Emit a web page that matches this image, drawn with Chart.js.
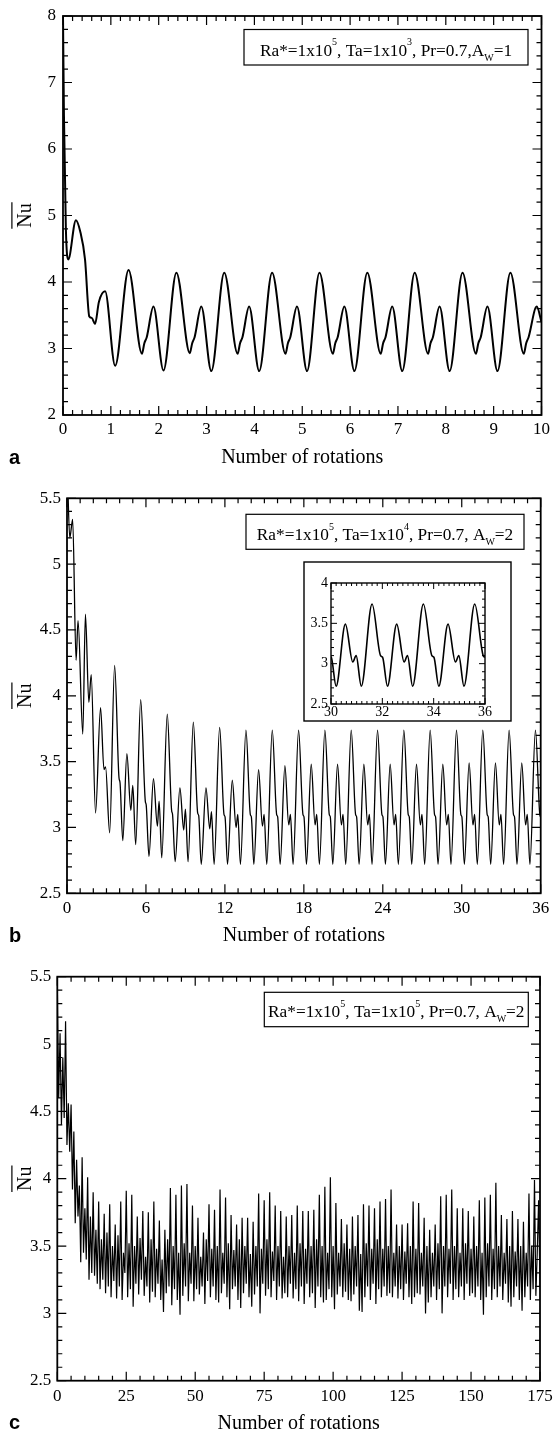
<!DOCTYPE html>
<html>
<head>
<meta charset="utf-8">
<script src="https://cdn.jsdelivr.net/npm/chart.js@4.4.0/dist/chart.umd.min.js"></script>
<style>
  body { margin: 0; background: #fff; }
  #page { position: relative; width: 553px; height: 1431px; overflow: hidden; }
  #page canvas { position: absolute; left: 0; top: 0; }
</style>
</head>
<body>
<div id="page">
  <canvas id="panelA" width="553" height="1431"></canvas>
  <canvas id="panelB" width="553" height="1431"></canvas>
  <canvas id="panelC" width="553" height="1431"></canvas>
  <canvas id="insetB" width="553" height="1431"></canvas>
</div>
<script>
// ---- panel a : Ra*=1e5, Ta=1e3, Aw=1 ----
const rotA = [
  0, 0.02, 0.06, 0.11, 0.27, 0.36, 0.46, 0.55, 0.6, 0.67, 0.75, 0.88, 1.09,
  1.37, 1.65, 1.7, 1.75, 1.89, 2.1,
  2.37, 2.65, 2.7, 2.75, 2.89, 3.1,
  3.37, 3.65, 3.7, 3.75, 3.89, 4.1,
  4.37, 4.65, 4.7, 4.75, 4.89, 5.1,
  5.36, 5.64, 5.69, 5.74, 5.88, 6.09,
  6.36, 6.64, 6.69, 6.74, 6.88, 7.09,
  7.35, 7.63, 7.68, 7.73, 7.87, 8.08,
  8.35, 8.63, 8.68, 8.73, 8.87, 9.08,
  9.35, 9.63, 9.68, 9.73, 9.9, 10
];
const nuA = [
  8.0, 6.5, 4.8, 4.34, 4.93, 4.76, 4.34, 3.48, 3.46, 3.37, 3.7, 3.86, 2.74,
  4.18, 2.92, 3.08, 3.17, 3.63, 2.67,
  4.14, 2.93, 3.08, 3.17, 3.63, 2.66,
  4.14, 2.92, 3.08, 3.17, 3.63, 2.66,
  4.14, 2.92, 3.08, 3.17, 3.63, 2.66,
  4.14, 2.92, 3.08, 3.17, 3.63, 2.66,
  4.14, 2.92, 3.08, 3.17, 3.63, 2.66,
  4.14, 2.92, 3.08, 3.17, 3.63, 2.66,
  4.14, 2.92, 3.08, 3.17, 3.63, 2.66,
  4.14, 2.92, 3.08, 3.17, 3.63, 3.4
];
const ticksXA = [0, 1, 2, 3, 4, 5, 6, 7, 8, 9, 10];
const ticksYA = [2, 3, 4, 5, 6, 7, 8];

// ---- panel b : Ra*=1e5, Ta=1e4, Aw=2 ----
const rotB = [
  0.02, 0.21, 0.43, 0.69, 0.84, 1.2, 1.4, 1.66, 1.84, 2.17, 2.55, 2.81, 2.93, 3.24,
  3.62, 3.95, 4.03, 4.24, 4.55, 4.85, 5.0, 5.22,
  5.6, 5.95, 6.02, 6.23, 6.57, 6.87, 7.0, 7.2,
  7.62, 7.95, 8.02, 8.22, 8.58, 8.87, 9.0, 9.2,
  9.6, 9.93, 10.01, 10.2, 10.56, 10.85, 10.98, 11.18,
  11.6, 11.93, 12.01, 12.2, 12.56, 12.85, 12.98, 13.18,
  13.6, 13.93, 14.01, 14.2, 14.56, 14.85, 14.98, 15.18,
  15.6, 15.93, 16.01, 16.2, 16.56, 16.85, 16.98, 17.18,
  17.6, 17.93, 18.01, 18.2, 18.56, 18.85, 18.98, 19.18,
  19.6, 19.93, 20.01, 20.2, 20.56, 20.85, 20.98, 21.18,
  21.6, 21.93, 22.01, 22.2, 22.56, 22.85, 22.98, 23.18,
  23.6, 23.93, 24.01, 24.2, 24.56, 24.85, 24.98, 25.18,
  25.6, 25.93, 26.01, 26.2, 26.56, 26.85, 26.98, 27.18,
  27.6, 27.93, 28.01, 28.2, 28.56, 28.85, 28.98, 29.18,
  29.6, 29.93, 30.01, 30.2, 30.56, 30.85, 30.98, 31.18,
  31.6, 31.93, 32.01, 32.2, 32.56, 32.85, 32.98, 33.18,
  33.6, 33.93, 34.01, 34.2, 34.56, 34.85, 34.98, 35.18,
  35.6, 35.93, 36.0
];
const nuB = [
  5.75, 5.2, 5.34, 4.27, 4.57, 3.71, 4.62, 3.95, 4.16, 3.11, 3.91, 3.44, 3.46, 2.96,
  4.23, 3.38, 3.34, 2.9, 3.56, 3.13, 3.32, 2.87,
  3.97, 3.2, 3.17, 2.78, 3.37, 3.01, 3.2, 2.77,
  3.86, 3.13, 3.1, 2.74, 3.3, 2.98, 3.14, 2.74,
  3.8, 3.11, 3.09, 2.72, 3.3, 2.99, 3.12, 2.72,
  3.76, 3.1, 3.08, 2.72, 3.36, 3.0, 3.1, 2.72,
  3.74, 3.1, 3.08, 2.72, 3.44, 3.01, 3.1, 2.72,
  3.74, 3.1, 3.08, 2.72, 3.47, 3.02, 3.1, 2.72,
  3.74, 3.1, 3.08, 2.72, 3.48, 3.02, 3.1, 2.72,
  3.74, 3.1, 3.08, 2.72, 3.48, 3.02, 3.1, 2.72,
  3.74, 3.1, 3.08, 2.72, 3.48, 3.02, 3.1, 2.72,
  3.74, 3.1, 3.08, 2.72, 3.48, 3.02, 3.1, 2.72,
  3.74, 3.1, 3.08, 2.72, 3.48, 3.02, 3.1, 2.72,
  3.74, 3.1, 3.08, 2.72, 3.48, 3.02, 3.1, 2.72,
  3.74, 3.1, 3.08, 2.72, 3.49, 3.02, 3.1, 2.72,
  3.74, 3.1, 3.08, 2.72, 3.49, 3.02, 3.1, 2.72,
  3.74, 3.1, 3.08, 2.72, 3.49, 3.02, 3.1, 2.72,
  3.74, 3.1, 3.08
];
const ticksXB = [0, 6, 12, 18, 24, 30, 36];
const ticksYB = [2.5, 3, 3.5, 4, 4.5, 5, 5.5];
const ticksXInset = [30, 32, 34, 36];
const ticksYInset = [2.5, 3, 3.5, 4];

// ---- panel c : Ra*=1e5, Ta=1e5, Aw=2 (sampled every half rotation) ----
const stepC = 0.5;
const nuC = [
  5.45, 4.6, 5.08, 4.4, 4.9, 4.45, 5.17, 4.25, 4.56, 4.2, 4.55, 3.92, 4.35, 3.67, 4.14, 3.72, 3.95, 3.38, 4.16, 3.45,
  3.78, 3.4, 4.01, 3.25, 3.72, 3.3, 3.9, 3.28, 3.62, 3.22, 3.83, 3.18, 3.55, 3.25, 3.74, 3.15, 3.6, 3.2, 3.81, 3.12,
  3.5, 3.24, 3.66, 3.11, 3.58, 3.2, 3.83, 3.1, 3.45, 3.3, 3.91, 3.12, 3.52, 3.18, 3.88, 3.05, 3.5, 3.22, 3.72, 3.14,
  3.56, 3.25, 3.76, 3.13, 3.42, 3.2, 3.75, 3.08, 3.55, 3.16, 3.83, 3.12, 3.48, 3.22, 3.69, 3.1, 3.4, 3.01, 3.62, 3.15,
  3.55, 3.2, 3.93, 3.06, 3.5, 3.18, 3.88, 3.1, 3.45, 2.99, 3.95, 3.13, 3.52, 3.2, 3.96, 3.09, 3.45, 3.22, 3.8, 3.09,
  3.5, 3.18, 3.71, 3.14, 3.42, 3.2, 3.6, 3.07, 3.55, 3.24, 3.81, 3.12, 3.48, 3.2, 3.77, 3.1, 3.5, 3.08, 3.92, 3.15,
  3.45, 3.22, 3.86, 3.12, 3.52, 3.03, 3.73, 3.18, 3.47, 3.2, 3.66, 3.1, 3.55, 3.04, 3.71, 3.15, 3.5, 3.22, 3.71, 3.12,
  3.44, 3.05, 3.68, 3.14, 3.5, 3.2, 3.89, 3.0, 3.48, 3.22, 3.84, 3.13, 3.55, 3.18, 3.9, 3.12, 3.46, 3.24, 3.8, 3.1,
  3.5, 3.2, 3.76, 3.11, 3.42, 3.15, 3.72, 3.12, 3.5, 3.22, 3.73, 3.11, 3.45, 3.18, 3.8, 3.09, 3.52, 3.2, 3.76, 3.07,
  3.48, 3.22, 3.76, 3.12, 3.5, 3.15, 3.77, 3.04, 3.55, 3.2, 3.88, 3.12, 3.5, 3.08, 3.94, 3.1, 3.45, 3.18, 4.01, 3.12,
  3.5, 3.03, 3.82, 3.14, 3.45, 3.2, 3.7, 3.12, 3.52, 3.16, 3.66, 3.1, 3.48, 3.09, 3.72, 3.14, 3.5, 3.2, 3.73, 3.02,
  3.44, 3.01, 3.81, 3.12, 3.52, 3.2, 3.8, 3.1, 3.48, 3.22, 3.78, 3.07, 3.55, 3.18, 3.83, 3.12, 3.48, 3.2, 3.85, 3.13,
  3.5, 3.15, 3.92, 3.12, 3.45, 3.2, 3.66, 3.11, 3.5, 3.18, 3.66, 3.1, 3.46, 3.22, 3.67, 3.12, 3.5, 3.07, 3.83, 3.12,
  3.48, 3.15, 3.82, 3.14, 3.45, 3.2, 3.71, 3.0, 3.5, 3.08, 3.62, 3.12, 3.45, 3.2, 3.66, 3.1, 3.52, 3.18, 3.87, 3.0,
  3.5, 3.2, 3.88, 3.12, 3.48, 3.22, 3.92, 3.1, 3.5, 3.18, 3.78, 3.12, 3.45, 3.2, 3.78, 3.1, 3.52, 3.22, 3.76, 3.13,
  3.48, 3.15, 3.72, 3.12, 3.5, 3.2, 3.84, 3.1, 3.45, 2.99, 3.86, 3.12, 3.52, 3.2, 3.88, 3.1, 3.48, 3.18, 3.97, 3.12,
  3.5, 3.2, 3.73, 3.1, 3.45, 3.22, 3.7, 3.08, 3.5, 3.05, 3.76, 3.12, 3.46, 3.2, 3.7, 3.1, 3.5, 3.02, 3.68, 3.12,
  3.45, 3.2, 3.89, 3.1, 3.5, 3.18, 3.99, 3.13, 3.45, 3.84, 3.2
];
const rotC = nuC.map((_, i) => i * stepC);
const ticksXC = [0, 25, 50, 75, 100, 125, 150, 175];
const ticksYC = [2.5, 3, 3.5, 4, 4.5, 5, 5.5];

// legend text pieces: [text, 'n' | 'sup' | 'sub']
const legendA = [['Ra*=1x10', 'n'], ['5', 'sup'], [', Ta=1x10', 'n'], ['3', 'sup'], [', Pr=0.7,A', 'n'], ['W', 'sub'], ['=1', 'n']];
const legendB = [['Ra*=1x10', 'n'], ['5', 'sup'], [', Ta=1x10', 'n'], ['4', 'sup'], [', Pr=0.7, A', 'n'], ['W', 'sub'], ['=2', 'n']];
const legendC = [['Ra*=1x10', 'n'], ['5', 'sup'], [', Ta=1x10', 'n'], ['5', 'sup'], [', Pr=0.7, A', 'n'], ['W', 'sub'], ['=2', 'n']];

const PAGE_W = 553, PAGE_H = 1431;
const SERIF = '"Liberation Serif", "Times New Roman", serif';

function tickMarks(scale, major, minor, majorLen, minorLen) {
  const out = [];
  const n = Math.round((scale.max - scale.min) / minor);
  for (let i = 0; i <= n; i++) {
    const v = scale.min + i * minor;
    const isMajor = major.some(m => Math.abs(m - v) < minor / 10);
    out.push({ p: scale.getPixelForValue(v), len: isMajor ? majorLen : minorLen });
  }
  return out;
}

// Tecplot-like frame: box, inward ticks on all sides, labels, titles, legend box
const tecFrame = {
  id: 'tecFrame',
  beforeDraw(chart, args, o) {
    if (!o.outerBox) return;
    const ctx = chart.ctx;
    const [bx, by, bw, bh] = o.outerBox;
    ctx.save();
    ctx.fillStyle = '#fff';
    ctx.fillRect(bx, by, bw, bh);
    ctx.strokeStyle = '#000';
    ctx.lineWidth = 1.4;
    ctx.strokeRect(bx, by, bw, bh);
    ctx.restore();
  },
  afterDraw(chart, args, o) {
    const { ctx, chartArea: a } = chart;
    const x = chart.scales.x, y = chart.scales.y;
    ctx.save();
    ctx.strokeStyle = '#000';
    ctx.fillStyle = '#000';

    ctx.lineWidth = o.tickWidth;
    ctx.beginPath();
    for (const m of tickMarks(x, o.xMajor, o.xMinor, o.majorLen, o.minorLen)) {
      ctx.moveTo(m.p, a.bottom); ctx.lineTo(m.p, a.bottom - m.len);
      ctx.moveTo(m.p, a.top); ctx.lineTo(m.p, a.top + m.len);
    }
    for (const m of tickMarks(y, o.yMajor, o.yMinor, o.majorLen, o.minorLen)) {
      ctx.moveTo(a.left, m.p); ctx.lineTo(a.left + m.len, m.p);
      ctx.moveTo(a.right, m.p); ctx.lineTo(a.right - m.len, m.p);
    }
    ctx.stroke();
    ctx.lineWidth = o.frameWidth;
    ctx.strokeRect(a.left, a.top, a.right - a.left, a.bottom - a.top);

    ctx.font = `${o.tickSize}px ${SERIF}`;
    ctx.textBaseline = 'middle';
    ctx.textAlign = 'center';
    o.xMajor.forEach(v => ctx.fillText(String(v), x.getPixelForValue(v), a.bottom + o.xLabelGap));
    ctx.textAlign = 'right';
    o.yMajor.forEach(v => ctx.fillText(String(v), a.left - o.yLabelGap, y.getPixelForValue(v)));

    if (o.xTitle) {
      ctx.font = `${o.titleSize}px ${SERIF}`;
      ctx.textAlign = 'center';
      ctx.textBaseline = 'alphabetic';
      ctx.fillText(o.xTitle, (a.left + a.right) / 2, a.bottom + 48);

      // averaged Nusselt number, written with a bar
      ctx.save();
      ctx.translate(o.yTitleX, (a.top + a.bottom) / 2);
      ctx.rotate(-Math.PI / 2);
      ctx.fillText('Nu', 0, 0);
      const w = ctx.measureText('Nu').width;
      ctx.lineWidth = 1.2;
      ctx.beginPath();
      ctx.moveTo(-w / 2 - 1, -o.titleSize * 0.93);
      ctx.lineTo(w / 2 + 1, -o.titleSize * 0.93);
      ctx.stroke();
      ctx.restore();
    }

    if (o.letter) {
      ctx.font = `bold 20px "Liberation Sans", Arial, sans-serif`;
      ctx.textAlign = 'left';
      ctx.textBaseline = 'alphabetic';
      ctx.fillText(o.letter, 9, a.bottom + 48.5);
    }

    if (o.legend) {
      const [bx, by, bw, bh] = o.legend.box;
      ctx.lineWidth = 1.2;
      ctx.strokeRect(bx, by, bw, bh);
      const size = o.legend.size;
      const fontFor = k => `${k === 'n' ? size : Math.round(size * 0.6)}px ${SERIF}`;
      let total = 0;
      for (const [txt, k] of o.legend.parts) {
        ctx.font = fontFor(k);
        total += ctx.measureText(txt).width;
      }
      let cx = bx + (bw - total) / 2;
      const base = by + o.legend.baseline;
      ctx.textAlign = 'left';
      ctx.textBaseline = 'alphabetic';
      for (const [txt, k] of o.legend.parts) {
        ctx.font = fontFor(k);
        const dy = k === 'sup' ? -size * 0.62 : k === 'sub' ? size * 0.3 : 0;
        ctx.fillText(txt, cx, base + dy);
        cx += ctx.measureText(txt).width;
      }
    }
    ctx.restore();
  }
};

function makePanel(id, p) {
  const pts = p.x.map((t, i) => ({ x: t, y: p.y[i] }));
  return new Chart(document.getElementById(id), {
    type: 'line',
    data: {
      datasets: [{
        data: pts,
        borderColor: '#000',
        borderWidth: p.lineWidth,
        pointRadius: 0,
        fill: false,
        tension: p.smooth ? 0.4 : 0,
        cubicInterpolationMode: p.smooth ? 'monotone' : 'default'
      }]
    },
    options: {
      responsive: false,
      animation: false,
      events: [],
      layout: {
        padding: { left: p.area[0], top: p.area[1], right: PAGE_W - p.area[2], bottom: PAGE_H - p.area[3] }
      },
      scales: {
        x: { type: 'linear', display: false, min: p.xMin, max: p.xMax },
        y: { type: 'linear', display: false, min: p.yMin, max: p.yMax }
      },
      plugins: {
        legend: { display: false },
        tooltip: { enabled: false },
        tecFrame: p.frame
      }
    },
    plugins: [tecFrame]
  });
}

makePanel('panelA', {
  x: rotA, y: nuA, smooth: true, lineWidth: 2,
  area: [63, 16, 541.5, 415], xMin: 0, xMax: 10, yMin: 2, yMax: 8,
  frame: {
    xMajor: ticksXA, xMinor: 0.2, yMajor: ticksYA, yMinor: 0.2,
    majorLen: 9, minorLen: 5, tickWidth: 1.2, frameWidth: 1.8,
    tickSize: 17, xLabelGap: 15, yLabelGap: 7,
    xTitle: 'Number of rotations', titleSize: 20, yTitleX: 30.5, letter: 'a',
    legend: { box: [244, 29.5, 284, 35.5], parts: legendA, size: 17.3, baseline: 26 }
  }
});

makePanel('panelB', {
  x: rotB, y: nuB, smooth: true, lineWidth: 1.3,
  area: [67, 498.3, 540.7, 893.3], xMin: 0, xMax: 36, yMin: 2.5, yMax: 5.5,
  frame: {
    xMajor: ticksXB, xMinor: 1, yMajor: ticksYB, yMinor: 0.1,
    majorLen: 9, minorLen: 5, tickWidth: 1.2, frameWidth: 1.8,
    tickSize: 17, xLabelGap: 15, yLabelGap: 6,
    xTitle: 'Number of rotations', titleSize: 20, yTitleX: 30.5, letter: 'b',
    legend: { box: [246, 514.3, 278, 35], parts: legendB, size: 17.3, baseline: 26 }
  }
});

makePanel('panelC', {
  x: rotC, y: nuC, smooth: false, lineWidth: 1.2,
  area: [57.3, 976.7, 540, 1380.7], xMin: 0, xMax: 175, yMin: 2.5, yMax: 5.5,
  frame: {
    xMajor: ticksXC, xMinor: 5, yMajor: ticksYC, yMinor: 0.1,
    majorLen: 9, minorLen: 5, tickWidth: 1.2, frameWidth: 1.8,
    tickSize: 17, xLabelGap: 16, yLabelGap: 6,
    xTitle: 'Number of rotations', titleSize: 20, yTitleX: 30.5, letter: 'c',
    legend: { box: [264.3, 992.3, 264, 34.4], parts: legendC, size: 17.3, baseline: 25 }
  }
});

// zoomed view of the last six rotations of panel b
makePanel('insetB', {
  x: rotB, y: nuB, smooth: true, lineWidth: 1.6,
  area: [331, 583, 485, 704], xMin: 30, xMax: 36, yMin: 2.5, yMax: 4,
  frame: {
    outerBox: [304, 562, 207, 159],
    xMajor: ticksXInset, xMinor: 0.2, yMajor: ticksYInset, yMinor: 0.1,
    majorLen: 6, minorLen: 3, tickWidth: 1, frameWidth: 1.4,
    tickSize: 14, xLabelGap: 8, yLabelGap: 3
  }
});
</script>
</body>
</html>
